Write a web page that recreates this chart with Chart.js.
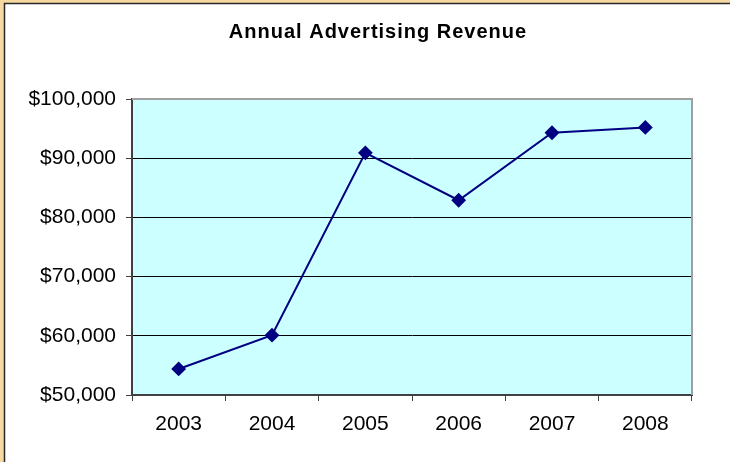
<!DOCTYPE html>
<html>
<head>
<meta charset="utf-8">
<script src="https://cdn.jsdelivr.net/npm/chart.js@4/dist/chart.umd.min.js"></script>
<style>
  html, body { margin: 0; padding: 0; background: #F5D9A0; }
  #wrap { width: 730px; height: 462px; position: relative; }
  canvas { display: block; }
</style>
</head>
<body>
<div id="wrap"><canvas id="revenueCanvas" width="730" height="462"></canvas></div>
<script>
// Annual advertising revenue
const years = ["2003", "2004", "2005", "2006", "2007", "2008"];
const revenue = [54400, 60100, 90900, 82900, 94300, 95200];
const chartTitle = "Annual Advertising Revenue";

const frame = {
    id: "frame",
    beforeDraw(chart) {
        const ctx = chart.ctx;
        const a = chart.chartArea;
        ctx.save();
        ctx.fillStyle = "#F5D9A0";
        ctx.fillRect(0, 0, chart.width, chart.height);
        ctx.fillStyle = "#FFFFFF";
        ctx.fillRect(4, 3, chart.width, chart.height);
        ctx.strokeStyle = "#2a2a2a";
        ctx.lineWidth = 1.5;
        ctx.beginPath();
        ctx.moveTo(4.5, chart.height);
        ctx.lineTo(4.5, 3.5);
        ctx.lineTo(chart.width, 3.5);
        ctx.stroke();
        // plot area
        ctx.fillStyle = "#CCFFFF";
        ctx.fillRect(a.left, a.top, a.right - a.left, a.bottom - a.top);
        // title
        ctx.fillStyle = "#000000";
        ctx.font = "bold 20px 'Liberation Sans', Arial, sans-serif";
        ctx.textAlign = "center";
        ctx.textBaseline = "middle";
        if ("letterSpacing" in ctx) ctx.letterSpacing = "1px";
        ctx.fillText(chartTitle, 378, 32);
        ctx.restore();
    },
    beforeDatasetsDraw(chart) {
        const ctx = chart.ctx;
        const a = chart.chartArea;
        ctx.save();
        ctx.strokeStyle = "#A0A0A0";
        ctx.lineWidth = 2;
        ctx.beginPath();
        ctx.moveTo(a.left, a.top);
        ctx.lineTo(a.right, a.top);
        ctx.lineTo(a.right, a.bottom);
        ctx.stroke();
        ctx.restore();
    }
};

const revenueChart = new Chart(document.getElementById("revenueCanvas"), {
    type: "line",
    data: {
        labels: years,
        datasets: [
            {
                label: "Revenue",
                data: revenue,
                borderColor: "#000080",
                backgroundColor: "#000080",
                borderWidth: 2,
                pointStyle: "rectRot",
                pointRadius: 6,
                pointHoverRadius: 6,
                tension: 0,
            },
        ],
    },
    options: {
        responsive: false,
        animation: false,
        devicePixelRatio: 1,
        layout: { padding: { top: 99, left: 0, right: 38, bottom: 0 } },
        plugins: {
            legend: { display: false },
            title: { display: false },
            tooltip: { enabled: false },
        },
        scales: {
            x: {
                offset: true,
                grid: {
                    offset: true,
                    drawOnChartArea: false,
                    tickLength: 6,
                    tickColor: "#404040",
                },
                border: { color: "#404040", width: 2 },
                ticks: {
                    color: "#000000",
                    padding: 11,
                    autoSkip: false,
                    maxRotation: 0,
                    font: { family: "'Liberation Sans', Arial, sans-serif", size: 21 },
                },
                afterFit(scale) { scale.height = 67; },
            },
            y: {
                min: 50000,
                max: 100000,
                grid: {
                    color: (c) => (c.tick && c.tick.value === 100000 ? "#A0A0A0" : "#000000"),
                    lineWidth: 1,
                    tickLength: 6,
                    tickColor: "#404040",
                },
                border: { color: "#404040", width: 2 },
                ticks: {
                    stepSize: 10000,
                    color: "#000000",
                    padding: 10,
                    font: { family: "'Liberation Sans', Arial, sans-serif", size: 21 },
                    callback: (v) => "$" + v.toLocaleString("en-US"),
                },
                afterFit(scale) { scale.width = 132; },
            },
        },
    },
    plugins: [frame],
});
</script>
</body>
</html>
